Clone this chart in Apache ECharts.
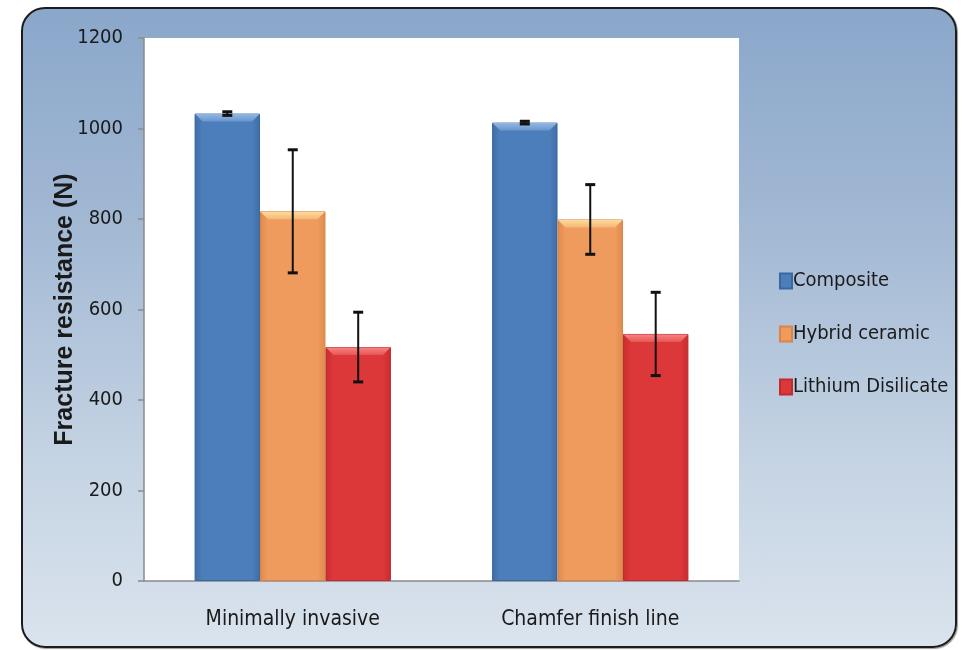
<!DOCTYPE html>
<html>
<head>
<meta charset="utf-8">
<script src="https://cdn.jsdelivr.net/npm/echarts@6/dist/echarts.min.js"></script>
<style>
html,body{margin:0;padding:0;background:#fff;}
#wrap{position:relative;width:963px;height:650px;overflow:hidden;background:#fff;}
#frame{position:absolute;left:21px;top:7px;width:932px;height:637px;border:2.5px solid #1c1c1c;border-radius:24px;
background:linear-gradient(to bottom,#8aa7ca 0%,#a3b9d4 35%,#c4d3e3 70%,#dae3ed 100%);box-shadow:1px 1px 1px rgba(0,0,0,0.4);}
#chart{position:absolute;left:0;top:0;width:963px;height:650px;}
</style>
</head>
<body>
<div id="wrap"><div id="frame"></div><div id="chart"></div></div>
<script>
const categories = ['Minimally invasive', 'Chamfer finish line'];
const seriesNames = ['Composite', 'Hybrid ceramic', 'Lithium Disilicate'];
const composite = [1033, 1013];
const compositeSD = [4, 3];
const hybrid = [817, 799];
const hybridSD = [136, 77];
const lithium = [517, 546];
const lithiumSD = [77, 92];
const yMin = 0, yMax = 1200, yInterval = 200;

const NARROW = "'Liberation Sans Narrow','DejaVu Sans Condensed',sans-serif";
const GAP = 0.34;
const palettes = [
  {edge:'#3f6da6', mid:'#4c7ebb', bevTop:'#93b6e2', bevBot:'#6895cd', border:'#3b679d'},
  {edge:'#e08a4c', mid:'#ef9b5e', bevTop:'#fcdc9c', bevBot:'#f5b676', border:'#d8844a'},
  {edge:'#c92c2f', mid:'#dc3739', bevTop:'#f58381', bevBot:'#e85555', border:'#bf2b2e'}
];
const values = [composite, hybrid, lithium];
const sds = [compositeSD, hybridSD, lithiumSD];

function barGrad(p){
  return new echarts.graphic.LinearGradient(0,0,1,0,[
    {offset:0,color:p.edge},{offset:0.12,color:p.mid},{offset:0.88,color:p.mid},{offset:1,color:p.edge}
  ]);
}

const series = [];
values.forEach((vals, i) => {
  const p = palettes[i];
  series.push({
    name: seriesNames[i], type:'bar', data: vals,
    barGap:'0%', barCategoryGap: (GAP*100)+'%',
    itemStyle:{color: barGrad(p), borderColor:p.border, borderWidth:1},
    z:2
  });
});
values.forEach((vals, i) => {
  const p = palettes[i];
  series.push({
    name: seriesNames[i] + ' decor', type:'custom',
    data: vals.map((v, k) => [k, v, sds[i][k]]),
    z:5, silent:true,
    renderItem: function(params, api){
      const k = api.value(0), v = api.value(1), sd = api.value(2);
      const catW = api.size([1,0])[0];
      const bw = catW*(1-GAP)/3;
      const top = api.coord([k, v]);
      const cx = top[0] + (i-1)*bw;
      const x0 = cx - bw/2, x1 = cx + bw/2, y0 = top[1];
      const b = 8;
      const hi = api.coord([k, v+sd])[1], lo = api.coord([k, v-sd])[1];
      const cap = 5;
      return {type:'group', children:[
        {type:'polygon', shape:{points:[[x0+0.5,y0+0.5],[x1-0.5,y0+0.5],[x1-b,y0+b],[x0+b,y0+b]]},
         style:{fill:new echarts.graphic.LinearGradient(0,0,0,1,[{offset:0,color:p.bevTop},{offset:1,color:p.bevBot}])}},
        {type:'line', shape:{x1:cx,y1:hi,x2:cx,y2:lo}, style:{stroke:'#111',lineWidth:2}},
        {type:'line', shape:{x1:cx-cap,y1:hi,x2:cx+cap,y2:hi}, style:{stroke:'#111',lineWidth:3}},
        {type:'line', shape:{x1:cx-cap,y1:lo,x2:cx+cap,y2:lo}, style:{stroke:'#111',lineWidth:3}}
      ]};
    }
  });
});

const chart = echarts.init(document.getElementById('chart'), null, {renderer:'canvas'});
chart.setOption({
  animation:false,
  backgroundColor:'transparent',
  grid:{left:144, right:224, top:38, bottom:69, show:true, backgroundColor:'#ffffff', borderWidth:0, containLabel:false},
  legend:{
    data: seriesNames, orient:'vertical', left:774, top:265,
    itemWidth:12, itemHeight:15, itemGap:31, icon:'rect',
    textStyle:{fontFamily:NARROW, fontSize:20, color:'#1a1a1a', lineHeight:22, padding:[0,0,0,-4]}
  },
  xAxis:{
    type:'category', data: categories, boundaryGap:true,
    axisLine:{show:true, lineStyle:{color:'#8a8a8a', width:1.5}},
    axisTick:{show:false},
    axisLabel:{fontFamily:NARROW, fontSize:21, color:'#1a1a1a', margin:28}
  },
  yAxis:{
    type:'value', min:yMin, max:yMax, interval:yInterval,
    name:'Fracture resistance (N)', nameLocation:'middle', nameGap:66, nameMoveOverlap:false,
    nameTextStyle:{fontFamily:"'Liberation Sans','Open Sans',sans-serif", fontWeight:'bold', fontSize:25, color:'#1a1a1a'},
    axisLine:{show:true, lineStyle:{color:'#8a8a8a', width:1.5}},
    axisTick:{show:true, inside:false, length:6, lineStyle:{color:'#8a8a8a', width:1.5}},
    splitLine:{show:false},
    axisLabel:{fontFamily:NARROW, fontSize:20, color:'#1a1a1a', margin:21, formatter: v => String(v)}
  },
  series: series
});
</script>
</body>
</html>
